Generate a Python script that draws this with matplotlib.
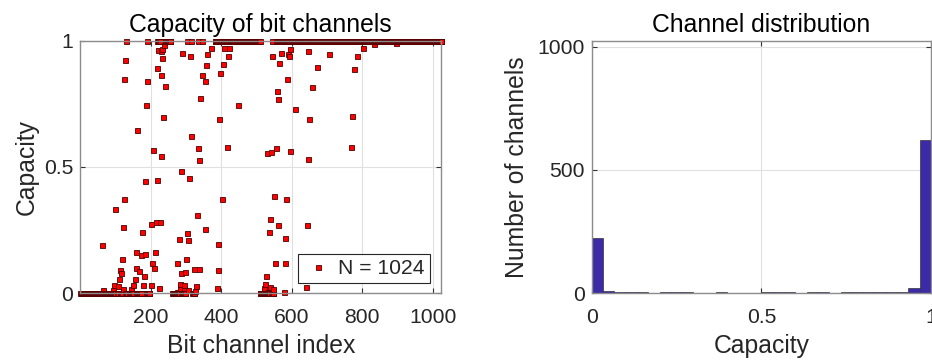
import numpy as np
import matplotlib
matplotlib.use("Agg")
import matplotlib.pyplot as plt

plt.rcParams['font.family'] = ['Liberation Sans', 'DejaVu Sans']

N = 1024

# bit channels sitting at capacity 0 / 1 (index runs, inclusive)
zero_runs = [(1, 100), (104, 110), (114, 118), (126, 134), (138, 150), (160, 172),
             (186, 196), (262, 300), (318, 324), (384, 388), (510, 548), (573, 578),
             (590, 592)]
one_runs = [(129, 129), (191, 191), (218, 226), (240, 256), (304, 304), (316, 316),
            (335, 335), (347, 347), (383, 509), (543, 543), (557, 1024)]

# channels with intermediate capacity
mid_idx = [187, 207, 222, 233, 231, 237, 128, 128, 185, 219, 232, 219, 126, 190, 176,
           215, 230, 241, 215, 187, 120, 234, 207, 161, 185, 212, 183, 207, 229, 112,
           125, 183, 217, 205, 227, 125, 176, 98, 181, 215, 227, 200, 122, 176, 120,
           63, 158, 212, 185, 174, 120, 205, 210, 159, 112, 117, 168, 181, 157, 202,
           110, 151, 180, 202, 225, 96, 107, 123, 145, 65, 94,
           288, 315, 315, 312, 334, 338, 361, 371, 392, 405, 420, 409, 421, 358, 405,
           309, 332, 397, 346, 403, 355, 302, 309, 395, 341, 329, 354, 302, 448, 395,
           338, 392, 315, 287, 300, 334, 417, 338, 390, 287, 309, 298, 332, 403, 388,
           285, 307, 332, 327, 354, 302, 281, 307, 392, 327, 300, 274, 324, 336, 390,
           285, 298, 295, 284, 295, 329, 388, 388, 283, 294, 305, 276, 327,
           556, 570, 589, 595, 593, 647, 545, 645, 706, 553, 565, 587, 672, 541, 562,
           587, 643, 558, 582, 658, 562, 536, 610, 582, 556, 650, 529, 541, 556, 580,
           594, 551, 645, 539, 551, 584, 643, 539, 560, 548, 536, 643, 582, 534, 526,
           553, 580, 534, 526, 577, 548, 524, 538, 548, 522, 534, 577, 641,
           772, 801, 833, 895, 784, 778, 772, 772, 769]
mid_cap = [0.983, 0.972, 0.964, 0.969, 0.959, 0.983, 0.956, 0.925, 0.94, 0.935, 0.93,
           0.89, 0.85, 0.84, 0.832, 0.856, 0.863, 0.819, 0.777, 0.744, 0.71, 0.698,
           0.686, 0.645, 0.636, 0.645, 0.571, 0.567, 0.545, 0.52, 0.524, 0.445, 0.449,
           0.418, 0.393, 0.373, 0.35, 0.332, 0.309, 0.281, 0.281, 0.274, 0.264, 0.244,
           0.215, 0.193, 0.165, 0.165, 0.156, 0.152, 0.136, 0.119, 0.102, 0.102, 0.094,
           0.08, 0.09, 0.067, 0.058, 0.058, 0.058, 0.034, 0.032, 0.033, 0.022, 0.034,
           0.03, 0.018, 0.017, 0.012, 0.013,
           0.952, 0.956, 0.976, 0.938, 0.941, 0.963, 0.947, 0.972, 0.959, 0.949, 0.941,
           0.972, 0.97, 0.904, 0.908, 0.893, 0.88, 0.873, 0.863, 0.85, 0.839, 0.83,
           0.802, 0.788, 0.772, 0.753, 0.753, 0.741, 0.747, 0.689, 0.648, 0.632, 0.623,
           0.608, 0.6, 0.574, 0.578, 0.529, 0.509, 0.483, 0.455, 0.427, 0.425, 0.373,
           0.363, 0.34, 0.309, 0.309, 0.255, 0.255, 0.24, 0.214, 0.21, 0.197, 0.165,
           0.135, 0.121, 0.098, 0.098, 0.091, 0.08, 0.084, 0.059, 0.036, 0.033, 0.03,
           0.038, 0.022, 0.02, 0.016, 0.012, 0.007, 0.009,
           0.974, 0.952, 0.947, 0.966, 0.938, 0.959, 0.938, 0.927, 0.947, 0.918, 0.91,
           0.908, 0.897, 0.869, 0.85, 0.85, 0.856, 0.802, 0.809, 0.815, 0.768, 0.741,
           0.731, 0.714, 0.69, 0.69, 0.554, 0.561, 0.574, 0.571, 0.563, 0.511, 0.533,
           0.412, 0.384, 0.373, 0.384, 0.296, 0.272, 0.259, 0.241, 0.272, 0.218, 0.156,
           0.112, 0.121, 0.119, 0.095, 0.069, 0.073, 0.046, 0.036, 0.026, 0.018, 0.02,
           0.007, 0.004, 0.024,
           0.976, 0.97, 0.987, 0.99, 0.938, 0.886, 0.806, 0.7, 0.58]

# histogram counts, 30 equal bins over [0, 1]
hist_counts = [225, 9, 6, 6, 5, 3, 4, 6, 5, 3, 3, 4, 3, 3, 3, 4, 5, 6, 3, 4, 4, 3, 4,
               5, 6, 7, 6, 5, 23, 620]

cap = np.full(N + 1, np.nan)
for a, b in zero_runs:
    cap[a:b + 1] = 0.0
for a, b in one_runs:
    cap[a:b + 1] = 1.0
cap[mid_idx] = mid_cap
idx = np.arange(N + 1)
ok = ~np.isnan(cap)

txt = '#262626'
spine_c = '0.55'


def style(ax):
    for s in ax.spines.values():
        s.set_color(spine_c)
        s.set_linewidth(1.0)
    ax.tick_params(direction='in', length=3.5, width=0.8, color='0.2',
                   top=True, right=True, labelsize=15.2, labelcolor=txt)
    ax.tick_params(axis='x', pad=10.5)
    ax.tick_params(axis='y', pad=5)
    ax.grid(True, color='0.88', linewidth=0.8)
    ax.set_axisbelow(True)


fig = plt.figure(figsize=(9.32, 3.62), dpi=100)

ax1 = fig.add_axes([80.35 / 932, 68.7 / 362, 360.9 / 932, 252.6 / 362])
ax1.plot(idx[ok], cap[ok], 's', ms=3.6, mfc='red', mec=(0.3, 0.0, 0.0), mew=0.6,
         label='N = %d' % N, clip_on=False)
ax1.set_xlim(1, N)
ax1.set_ylim(0, 1)
ax1.set_xticks([200, 400, 600, 800, 1000])
ax1.set_yticks([0, 0.5, 1])
ax1.set_yticklabels(['0', '0.5', '1'])
style(ax1)
ax1.set_title('Capacity of bit channels', fontsize=17.8, color='black', pad=6.5)
ax1.set_xlabel('Bit channel index', fontsize=17.8, color=txt, labelpad=5)
ax1.set_ylabel('Capacity', fontsize=17.8, color=txt, labelpad=4)
leg = ax1.legend(loc='lower right', bbox_to_anchor=(0.968, 0.04), borderaxespad=0,
                 fontsize=15.2, fancybox=False, framealpha=1, edgecolor='0.15',
                 handlelength=1.4, handletextpad=0.25, borderpad=0.25, markerscale=1.0)
leg.get_frame().set_linewidth(0.8)
for t in leg.get_texts():
    t.set_color(txt)

ax2 = fig.add_axes([591.7 / 932, 68.7 / 362, 339.3 / 932, 252.6 / 362])
edges = np.linspace(0, 1, len(hist_counts) + 1)
ax2.bar(edges[:-1], hist_counts, width=1 / len(hist_counts), align='edge',
        color='#3d2aa6', edgecolor='0.2', linewidth=0.5)
ax2.set_xlim(0, 1)
ax2.set_ylim(0, N)
ax2.set_xticks([0, 0.5, 1])
ax2.set_xticklabels(['0', '0.5', '1'])
ax2.set_yticks([0, 500, 1000])
style(ax2)
ax2.set_title('Channel distribution', fontsize=17.8, color='black', pad=6.5)
ax2.set_xlabel('Capacity', fontsize=17.8, color=txt, labelpad=5)
ax2.set_ylabel('Number of channels', fontsize=17.8, color=txt, labelpad=6)

fig.savefig('out.png', dpi=100)
